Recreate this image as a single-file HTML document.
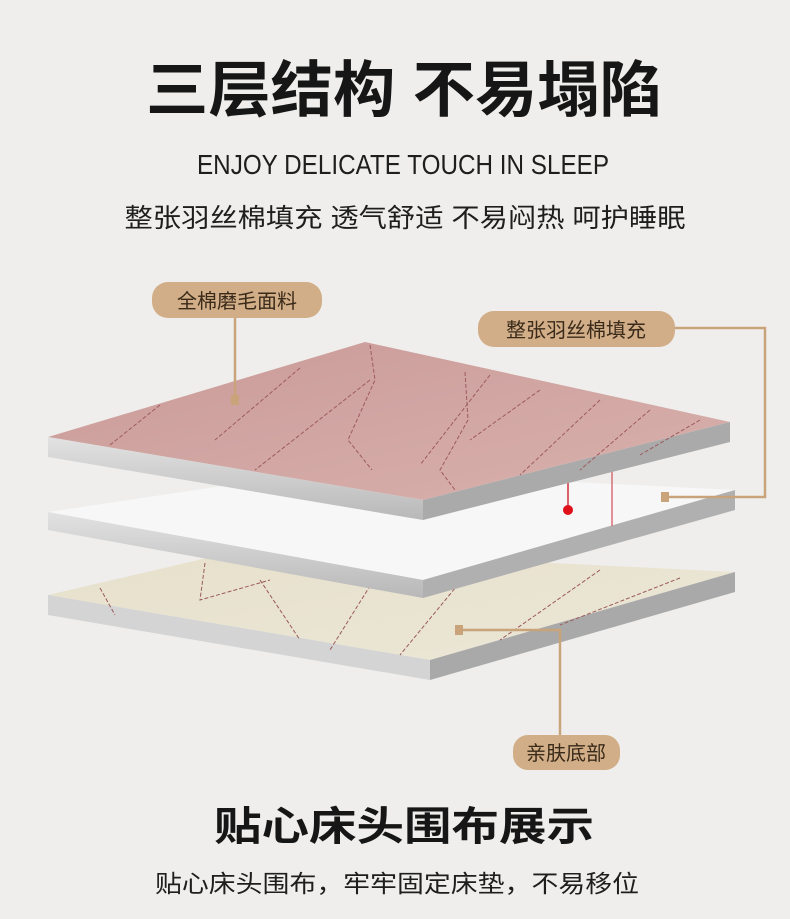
<!DOCTYPE html>
<html><head><meta charset="utf-8"><style>
html,body{margin:0;padding:0;background:#efeeec;}
svg{display:block}
text{font-family:"Liberation Sans","Noto Sans CJK SC",sans-serif;}
</style></head><body>
<svg width="790" height="919" viewBox="0 0 790 919" xmlns="http://www.w3.org/2000/svg">
<defs>
<linearGradient id="pink" x1="0" y1="0" x2="1" y2="1"><stop offset="0" stop-color="#c99a98"/><stop offset="1" stop-color="#d9b1ad"/></linearGradient>
<linearGradient id="cream" x1="0" y1="0" x2="1" y2="1"><stop offset="0" stop-color="#e6e0cc"/><stop offset="1" stop-color="#ece7d6"/></linearGradient>
<linearGradient id="side" x1="0" y1="0" x2="0" y2="1"><stop offset="0" stop-color="#e2e2e2"/><stop offset="1" stop-color="#b8b8b8"/></linearGradient>
</defs>
<rect width="790" height="919" fill="#efeeec"/>
<text x="404" y="111" font-size="61" font-weight="bold" text-anchor="middle" fill="#161616" textLength="516" lengthAdjust="spacingAndGlyphs">三层结构 不易塌陷</text>
<text x="403" y="174" font-size="28" text-anchor="middle" fill="#1e1e1e" textLength="412" lengthAdjust="spacingAndGlyphs">ENJOY DELICATE TOUCH IN SLEEP</text>
<text x="405" y="227" font-size="26" text-anchor="middle" fill="#1e1e1e" textLength="561" lengthAdjust="spacingAndGlyphs">整张羽丝棉填充 透气舒适 不易闷热 呵护睡眠</text>

<!-- bottom layer -->
<polygon points="48,595 250,548 735,572 430,660" fill="url(#cream)"/>
<polygon points="48,595 430,660 430,680 48,615" fill="#d4d4d4"/>
<polygon points="430,660 735,572 735,592 430,680" fill="#a9a9a9"/>
<g stroke="#9a5a5a" stroke-width="1" stroke-dasharray="4,2" fill="none">
<path d="M100,588 L115,615"/><path d="M205,563 L200,600 L270,580"/><path d="M260,580 L300,640"/>
<path d="M380,570 L330,650"/><path d="M470,570 L400,655"/><path d="M600,570 L500,640"/><path d="M680,578 L560,625"/>
</g>
<!-- middle layer -->
<polygon points="48,512 330,470 735,490 423,580" fill="#f7f7f8"/>
<polygon points="48,512 423,580 423,598 48,530" fill="url(#side)"/>
<polygon points="423,580 735,490 735,510 423,598" fill="#b0b0b0"/>
<line x1="568" y1="482" x2="568" y2="508" stroke="#d0303a" stroke-width="1.5"/>
<circle cx="568" cy="510" r="5" fill="#e0101a"/>
<line x1="612" y1="470" x2="612" y2="526" stroke="#d05058" stroke-width="1.2"/>
<!-- top layer -->
<polygon points="48,437 365,342 730,422 423,500" fill="url(#pink)"/>
<polygon points="48,437 423,500 423,520 48,457" fill="url(#side)"/>
<polygon points="423,500 730,422 730,442 423,520" fill="#aaaaaa"/>
<g stroke="#9e5a5e" stroke-width="1" stroke-dasharray="4,2" fill="none">
<path d="M370,345 L375,380 L348,440 L372,470"/><path d="M465,372 L468,420 L440,470 L455,490"/>
<path d="M300,368 L215,440"/><path d="M370,380 L255,470"/><path d="M160,405 L110,445"/>
<path d="M490,375 L420,465"/><path d="M540,390 L470,440"/><path d="M600,400 L520,475"/><path d="M650,410 L580,470"/><path d="M700,420 L640,455"/>
</g>

<!-- callouts -->
<g stroke="#c9a37a" stroke-width="2.5" fill="none">
<path d="M235,316 V400"/>
<path d="M672,328 H765 V497 H665"/>
<path d="M560,740 V630 H458"/>
</g>
<rect x="231" y="395" width="8" height="10" fill="#c9a37a"/>
<rect x="661" y="492" width="8" height="10" fill="#c9a37a"/>
<rect x="455" y="625" width="8" height="10" fill="#c9a37a"/>
<rect x="152" y="282" width="170" height="36" rx="16" fill="#d1ae87"/>
<text x="237" y="308" font-size="20" text-anchor="middle" fill="#3a2a1a">全棉磨毛面料</text>
<rect x="478" y="311" width="197" height="36" rx="16" fill="#d1ae87"/>
<text x="576" y="337" font-size="20" text-anchor="middle" fill="#3a2a1a">整张羽丝棉填充</text>
<rect x="513" y="735" width="107" height="35" rx="15" fill="#d1ae87"/>
<text x="566" y="760" font-size="20" text-anchor="middle" fill="#3a2a1a">亲肤底部</text>

<text x="404" y="840" font-size="40" font-weight="bold" text-anchor="middle" fill="#161616" textLength="380" lengthAdjust="spacingAndGlyphs">贴心床头围布展示</text>
<text x="397" y="892" font-size="24" text-anchor="middle" fill="#1e1e1e" textLength="484" lengthAdjust="spacingAndGlyphs">贴心床头围布，牢牢固定床垫，不易移位</text>
</svg>
</body></html>
